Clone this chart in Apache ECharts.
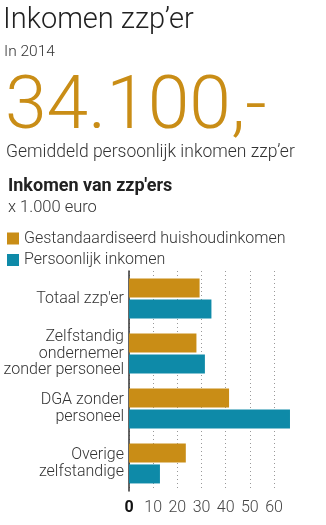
<!DOCTYPE html>
<html>
<head>
<meta charset="utf-8">
<script src="https://cdn.jsdelivr.net/npm/echarts@6/dist/echarts.min.js"></script>
<style>
html,body{margin:0;padding:0;background:#fff;}
#chart{width:326px;height:525px;}
</style>
</head>
<body>
<div id="chart"></div>
<script>
var categories = ["Totaal zzp'er", "Zelfstandig\nondernemer\nzonder personeel", "DGA zonder\npersoneel", "Overige\nzelfstandige"];
var huishoudinkomen = [29.2, 27.9, 41.4, 23.5];
var persoonlijk = [34.1, 31.4, 66.6, 12.8];
var seriesNames = ["Gestandaardiseerd huishoudinkomen", "Persoonlijk inkomen"];
var xTicks = [0, 10, 20, 30, 40, 50, 60];

var GOLD = '#c98d16';
var TEAL = '#0e8aa8';
var FONT = 'Roboto, "Open Sans", sans-serif';

var chart = echarts.init(document.getElementById('chart'), null, {renderer: 'canvas'});
chart.setOption({
  backgroundColor: '#fff',
  animation: false,
  textStyle: {fontFamily: FONT},
  title: [
    {text: "Inkomen zzp\u2019er", left: 3, top: 6, padding: 0, textStyle: {fontFamily: FONT, fontSize: 29, fontWeight: 300, color: '#222'}},
    {text: 'In 2014', left: 4, top: 44, padding: 0, textStyle: {fontFamily: FONT, fontSize: 15.5, fontWeight: 300, color: '#333'}},
    {text: '34.100,-', left: 5, top: 72, padding: 0, textStyle: {fontFamily: FONT, fontSize: 75, fontWeight: 300, color: GOLD}},
    {text: "Gemiddeld persoonlijk inkomen zzp\u2019er", left: 6, top: 144, padding: 0, textStyle: {fontFamily: FONT, fontSize: 17.5, fontWeight: 300, color: '#333'}},
    {text: "Inkomen van zzp'ers", left: 8, top: 177, padding: 0, textStyle: {fontFamily: FONT, fontSize: 18, fontWeight: 'bold', color: '#222'}},
    {text: 'x 1.000 euro', left: 8, top: 199, padding: 0, textStyle: {fontFamily: FONT, fontSize: 16.5, fontWeight: 300, color: '#333'}}
  ],
  legend: {
    orient: 'vertical', left: 7, top: 230.5, itemWidth: 12, itemHeight: 12, itemGap: 5.5,
    icon: 'rect', padding: 0,
    textStyle: {fontFamily: FONT, fontSize: 16, fontWeight: 300, color: '#333', padding: [0, 0, 0, 0]},
    data: seriesNames
  },
  grid: {left: 129, top: 271, width: 169.2, height: 220},
  xAxis: {
    type: 'value', min: 0, max: 70, interval: 10,
    axisLine: {show: false}, axisTick: {show: false},
    splitLine: {show: true, showMaxLine: false, lineStyle: {type: [1, 3], color: '#999', width: 1}},
    axisLabel: {
      showMaxLabel: false, margin: 9, fontSize: 16, fontWeight: 300, color: '#444', fontFamily: FONT,
      formatter: function (v) { return v === 0 ? '{z|0}' : String(v); },
      rich: {z: {fontSize: 16, fontWeight: 'bold', color: '#111', fontFamily: FONT}}
    }
  },
  yAxis: {
    type: 'category', inverse: true, data: categories,
    axisLine: {show: true, lineStyle: {color: '#333', width: 1.5}},
    axisTick: {show: false},
    axisLabel: {margin: 5, fontSize: 16, fontWeight: 300, color: '#333', lineHeight: 16.5, fontFamily: FONT, align: 'right'}
  },
  series: [
    {name: seriesNames[0], type: 'bar', data: huishoudinkomen, barWidth: 19, barGap: '10%', itemStyle: {color: GOLD}, z: 3},
    {name: seriesNames[1], type: 'bar', data: persoonlijk, barWidth: 19, barGap: '10%', itemStyle: {color: TEAL}, z: 3}
  ]
});
</script>
</body>
</html>
